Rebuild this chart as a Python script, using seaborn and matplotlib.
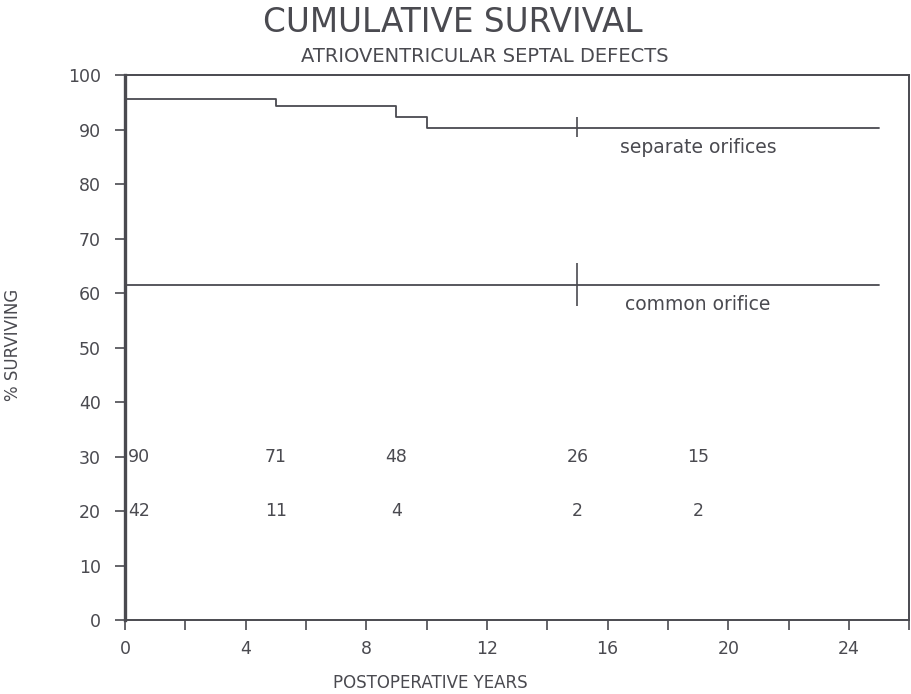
import matplotlib.pyplot as plt
import pandas as pd
import seaborn as sns

# Kaplan-Meier style steps
sep_years = [0, 0, 5, 9, 10, 25]
sep_surv = [100, 95.6, 94.3, 92.3, 90.4, 90.4]
com_years = [0, 0, 25]
com_surv = [100, 61.5, 61.5]

# numbers at risk
risk_years = [0.1, 5, 9, 15, 19]
risk_sep = [90, 71, 48, 26, 15]
risk_com = [42, 11, 4, 2, 2]

censor_x = 15
INK = "#4a4a50"

sns.set_theme(style="ticks")
plt.rcParams["font.family"] = ["DejaVu Sans"]

fig = plt.figure(figsize=(9.12, 6.94), dpi=100)
ax = fig.add_axes([0.137, 0.1066, 0.86, 0.785])

df = pd.concat([
    pd.DataFrame({"years": sep_years, "surv": sep_surv, "group": "separate"}),
    pd.DataFrame({"years": com_years, "surv": com_surv, "group": "common"}),
])
sns.lineplot(data=df, x="years", y="surv", units="group", estimator=None,
             sort=False, drawstyle="steps-post", color=INK, lw=1.3, ax=ax)

# censoring marks at 15 years
ax.vlines(censor_x, 88.6, 92.3, color=INK, lw=1.2)
ax.vlines(censor_x, 57.6, 65.5, color=INK, lw=1.2)

ax.text(19.0, 86.8, "separate orifices", ha="center", va="center",
        fontsize=13.5, color=INK)
ax.text(19.0, 58.0, "common orifice", ha="center", va="center",
        fontsize=13.5, color=INK)

for i, x in enumerate(risk_years):
    ha = "left" if i == 0 else "center"
    ax.text(x, 30, str(risk_sep[i]), ha=ha, va="center", fontsize=12.5, color=INK)
    ax.text(x, 20, str(risk_com[i]), ha=ha, va="center", fontsize=12.5, color=INK)

ax.set_xlim(0, 26)
ax.set_ylim(0, 100)
ax.set_xticks(range(0, 25, 4))
ax.set_xticks(range(0, 27, 2), minor=True)
ax.set_yticks(range(0, 101, 10))
ax.tick_params(axis="both", which="both", direction="out", length=7.5,
               width=1.2, color=INK, labelcolor=INK, labelsize=12.5)
ax.tick_params(axis="y", pad=10)
ax.tick_params(axis="x", pad=7)
for s in ax.spines.values():
    s.set_color(INK)
    s.set_linewidth(1.4)
ax.spines["left"].set_linewidth(2.4)

ax.set_xlabel("POSTOPERATIVE YEARS", fontsize=12, color=INK)
ax.xaxis.set_label_coords(0.389, -0.1)
ax.set_ylabel("% SURVIVING", fontsize=12, color=INK)
ax.yaxis.set_label_coords(-0.131, 0.505)

fig.text(0.497, 0.968, "CUMULATIVE SURVIVAL", ha="center", va="center",
         fontsize=23.5, color=INK)
fig.text(0.532, 0.919, "ATRIOVENTRICULAR SEPTAL DEFECTS", ha="center",
         va="center", fontsize=14, color=INK)

fig.savefig("out.png", dpi=100)
